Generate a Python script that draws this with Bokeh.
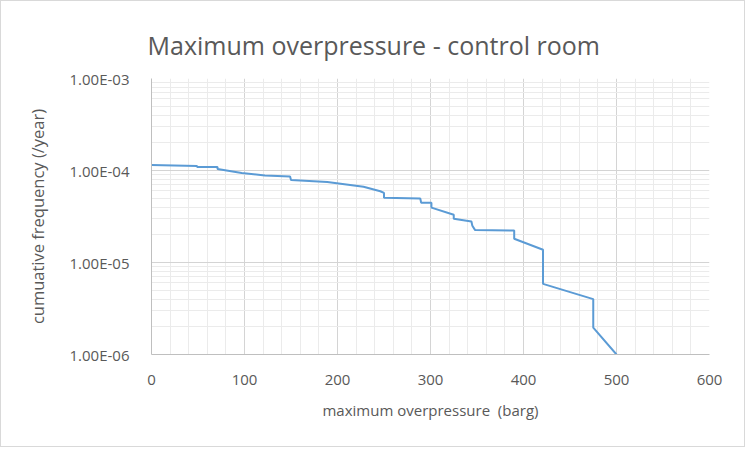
from bokeh.plotting import figure
from bokeh.models import FixedTicker, CustomJSTickFormatter, Range1d, Title
from bokeh.embed import file_html
from bokeh.resources import INLINE

# data
overpressure = [0, 49, 49, 71, 71, 97, 122, 149, 150, 189, 228, 246, 250, 250, 289, 290,
                301, 301, 325, 325, 344, 345, 348, 390, 390, 421, 421, 475, 475, 500]
frequency = [1.15e-4, 1.12e-4, 1.09e-4, 1.09e-4, 1.04e-4, 9.4e-5, 8.85e-5, 8.6e-5, 7.9e-5,
             7.5e-5, 6.65e-5, 5.95e-5, 5.7e-5, 5.05e-5, 4.97e-5, 4.45e-5, 4.45e-5, 3.95e-5,
             3.3e-5, 2.99e-5, 2.79e-5, 2.51e-5, 2.25e-5, 2.23e-5, 1.81e-5, 1.375e-5,
             5.86e-6, 4.0e-6, 1.96e-6, 1.0e-6]
x_ticks = [0, 100, 200, 300, 400, 500, 600]
x_minor = [v for v in range(0, 601, 20) if v % 100]
y_ticks = [1e-6, 1e-5, 1e-4, 1e-3]
y_minor = [m * d for d in [1e-6, 1e-5, 1e-4] for m in range(2, 10)]

title_text = "Maximum overpressure - control room"
x_label = "maximum overpressure\u00a0 (barg)"
y_label = "cumuative frequency (/year)"

TEXT = "#595959"
FONT = "Open Sans"

p = figure(width=745, height=447, y_axis_type="log", output_backend="svg",
           toolbar_location=None, x_range=Range1d(0, 600), y_range=Range1d(1e-6, 1e-3),
           min_border_left=150, min_border_right=37, min_border_top=77, min_border_bottom=94)
p.styles = {"border": "1px solid #d9d9d9"}
p.outline_line_color = None

t = Title(text=title_text, align="left", offset=-4, text_font=FONT, text_font_size="25px",
          text_color=TEXT, text_font_style="normal", standoff=34)
p.add_layout(t, "above")

p.line(overpressure, frequency, line_color="#5b9bd5", line_width=2)

p.xaxis.ticker = FixedTicker(ticks=x_ticks, minor_ticks=x_minor)
p.yaxis.ticker = FixedTicker(ticks=y_ticks, minor_ticks=y_minor)
p.yaxis.formatter = CustomJSTickFormatter(code="""
var s = tick.toExponential(2).toUpperCase();
return s.replace(/E([+-])(\\d)$/, 'E$10$2');
""")

for ax in (p.xaxis, p.yaxis):
    ax.major_tick_line_color = None
    ax.minor_tick_line_color = None
    ax.axis_line_color = "#bfbfbf"
    ax.major_label_text_font = FONT
    ax.major_label_text_font_size = "15px"
    ax.major_label_text_color = TEXT
    ax.axis_label_text_font = FONT
    ax.axis_label_text_font_size = "15px"
    ax.axis_label_text_color = TEXT
    ax.axis_label_text_font_style = "normal"

p.yaxis.axis_label_text_font_size = "16.5px"
p.xaxis.axis_label = x_label
p.yaxis.axis_label = y_label
p.xaxis.major_label_standoff = 14
p.yaxis.major_label_standoff = 16
p.xaxis.axis_label_standoff = 12
p.yaxis.axis_label_standoff = 18

p.xgrid.grid_line_color = "#d4d4d4"
p.ygrid.grid_line_color = "#d4d4d4"
p.xgrid.minor_grid_line_color = "#ebebeb"
p.ygrid.minor_grid_line_color = "#ebebeb"

open("out.html", "w").write(file_html(p, INLINE))
